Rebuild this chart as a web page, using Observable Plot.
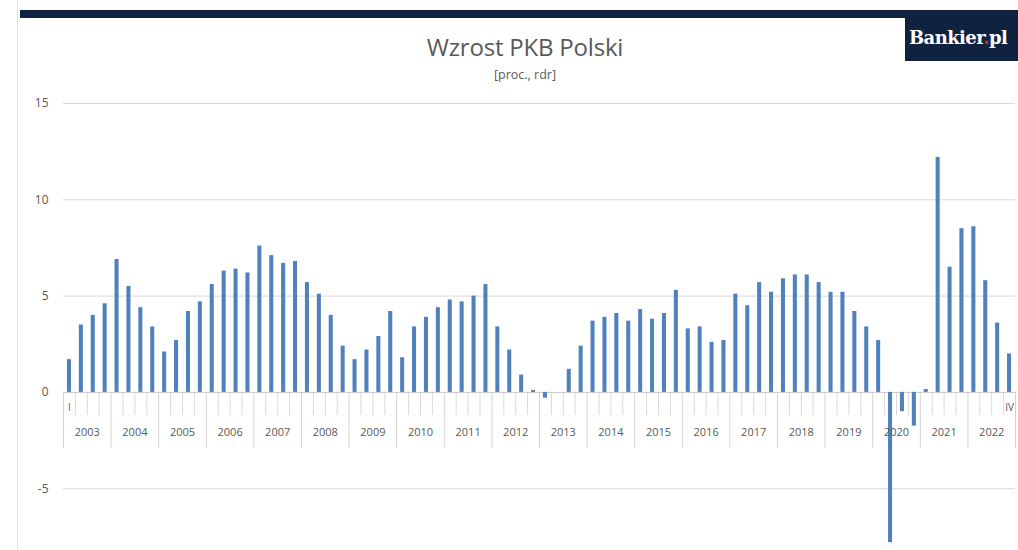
<!DOCTYPE html>
<html>
<head>
<meta charset="utf-8">
<script src="https://cdn.jsdelivr.net/npm/d3@7"></script>
<script src="https://cdn.jsdelivr.net/npm/@observablehq/plot@0.6"></script>
<style>
  html, body { margin: 0; padding: 0; background: #fff; }
  #page { position: relative; width: 1018px; height: 550px; overflow: hidden; font-family: "Open Sans", "Noto Sans", sans-serif; }
  #leftline { position: absolute; left: 17px; top: 0; width: 1px; height: 550px; background: #e6e6e6; }
  #topbar { position: absolute; left: 20px; top: 10px; width: 998px; height: 8px; background: #0f2340; }
  #title { position: absolute; left: 325px; width: 400px; top: 30px; text-align: center; font-size: 24px; color: #595959; letter-spacing: -0.2px; }
  #subtitle { position: absolute; left: 425px; width: 200px; top: 66px; text-align: center; font-size: 12.5px; color: #595959; }
  #logo { position: absolute; left: 905px; top: 18px; width: 113px; height: 43px; background: #0f2340; overflow: hidden; white-space: nowrap; }
  #logo span.t { position: absolute; left: 4px; top: 9px; font-family: "DejaVu Serif", "Liberation Serif", serif; font-weight: bold; font-size: 18px; color: #fff; letter-spacing: -0.6px; }
  #logo span.d { color: #e2231a; }
  #chart { position: absolute; left: 0; top: 90px; }
</style>
</head>
<body>
<div id="page">
  <div id="leftline"></div>
  <div id="topbar"></div>
  <div id="title">Wzrost PKB Polski</div>
  <div id="subtitle">[proc., rdr]</div>
  <div id="logo"><span class="t">Bankier<span class="d">.</span>pl</span></div>
  <div id="chart"></div>
</div>
<script>
// ---- data ----
const years = [2003, 2004, 2005, 2006, 2007, 2008, 2009, 2010, 2011, 2012,
               2013, 2014, 2015, 2016, 2017, 2018, 2019, 2020, 2021, 2022];
const quarterNames = ["I", "II", "III", "IV"];
const growth = [
  1.7, 3.5, 4.0, 4.6,    // 2003
  6.9, 5.5, 4.4, 3.4,    // 2004
  2.1, 2.7, 4.2, 4.7,    // 2005
  5.6, 6.3, 6.4, 6.2,    // 2006
  7.6, 7.1, 6.7, 6.8,    // 2007
  5.7, 5.1, 4.0, 2.4,    // 2008
  1.7, 2.2, 2.9, 4.2,    // 2009
  1.8, 3.4, 3.9, 4.4,    // 2010
  4.8, 4.7, 5.0, 5.6,    // 2011
  3.4, 2.2, 0.9, 0.1,    // 2012
  -0.3, 0.0, 1.2, 2.4,   // 2013
  3.7, 3.9, 4.1, 3.7,    // 2014
  4.3, 3.8, 4.1, 5.3,    // 2015
  3.3, 3.4, 2.6, 2.7,    // 2016
  5.1, 4.5, 5.7, 5.2,    // 2017
  5.9, 6.1, 6.1, 5.7,    // 2018
  5.2, 5.2, 4.2, 3.4,    // 2019
  2.7, -7.8, -1.0, -1.75,// 2020
  0.15, 12.2, 6.5, 8.5,  // 2021
  8.6, 5.8, 3.6, 2.0     // 2022
];
const yTicks = [-5, 0, 5, 10, 15];

// ---- derived tables ----
const nQ = quarterNames.length;
const bars = growth.map((v, i) => ({ i, v, year: years[Math.floor(i / nQ)], q: quarterNames[i % nQ] }));
const n = bars.length;
const quarterBounds = d3.range(1, n).filter(k => k % nQ !== 0).map(k => k - 0.5);
const yearBounds = d3.range(0, n + 1, nQ).map(k => k - 0.5);
const yearLabels = years.map((y, j) => ({ year: String(y), x: j * nQ + (nQ - 1) / 2 }));
const edgeLabels = [
  { x: 0, label: quarterNames[0] },
  { x: n - 1, label: quarterNames[nQ - 1] }
];

// ---- geometry ----
const W = 1018, H = 460, mt = 13, mb = 4, ml = 63, mr = 3;
const yDomain = [-8, 15];
const pxPerUnit = (H - mt - mb) / (yDomain[1] - yDomain[0]);
const px = p => -p / pxPerUnit; // pixel depth below zero -> data units
const barHalf = 0.17;

const gray = "#595959";
const plot = Plot.plot({
  width: W,
  height: H,
  marginTop: mt,
  marginBottom: mb,
  marginLeft: ml,
  marginRight: mr,
  style: { fontFamily: "'Open Sans', 'Noto Sans', sans-serif", background: "transparent", overflow: "visible" },
  x: { type: "linear", domain: [-0.5, n - 0.5], axis: null },
  y: { domain: yDomain, ticks: yTicks, axis: null, label: null },
  marks: [
    Plot.gridY(yTicks.filter(t => t !== 0), { stroke: "#d9d9d9", strokeOpacity: 1, strokeWidth: 1 }),
    Plot.axisY(yTicks, { label: null, tickSize: 0, tickPadding: 15, fontSize: 12, fill: gray, tickFormat: d => String(d) }),
    Plot.ruleX(quarterBounds, { x: d => d, y1: 0, y2: px(23), stroke: "#d9d9d9" }),
    Plot.ruleX(yearBounds, { x: d => d, y1: 0, y2: px(56), stroke: "#d4d4d4" }),
    Plot.ruleY([0], { stroke: "#c8c8c8" }),
    Plot.rectY(bars, { x1: d => d.i - barHalf, x2: d => d.i + barHalf, y: "v", fill: "#4f81bd" }),
    Plot.text(edgeLabels, { x: "x", y: 0, text: "label", dy: 15, fontSize: 10, fill: gray }),
    Plot.text(yearLabels, { x: "x", y: 0, text: "year", dy: 40, fontSize: 11, fill: gray })
  ]
});
document.getElementById("chart").appendChild(plot);
</script>
</body>
</html>
